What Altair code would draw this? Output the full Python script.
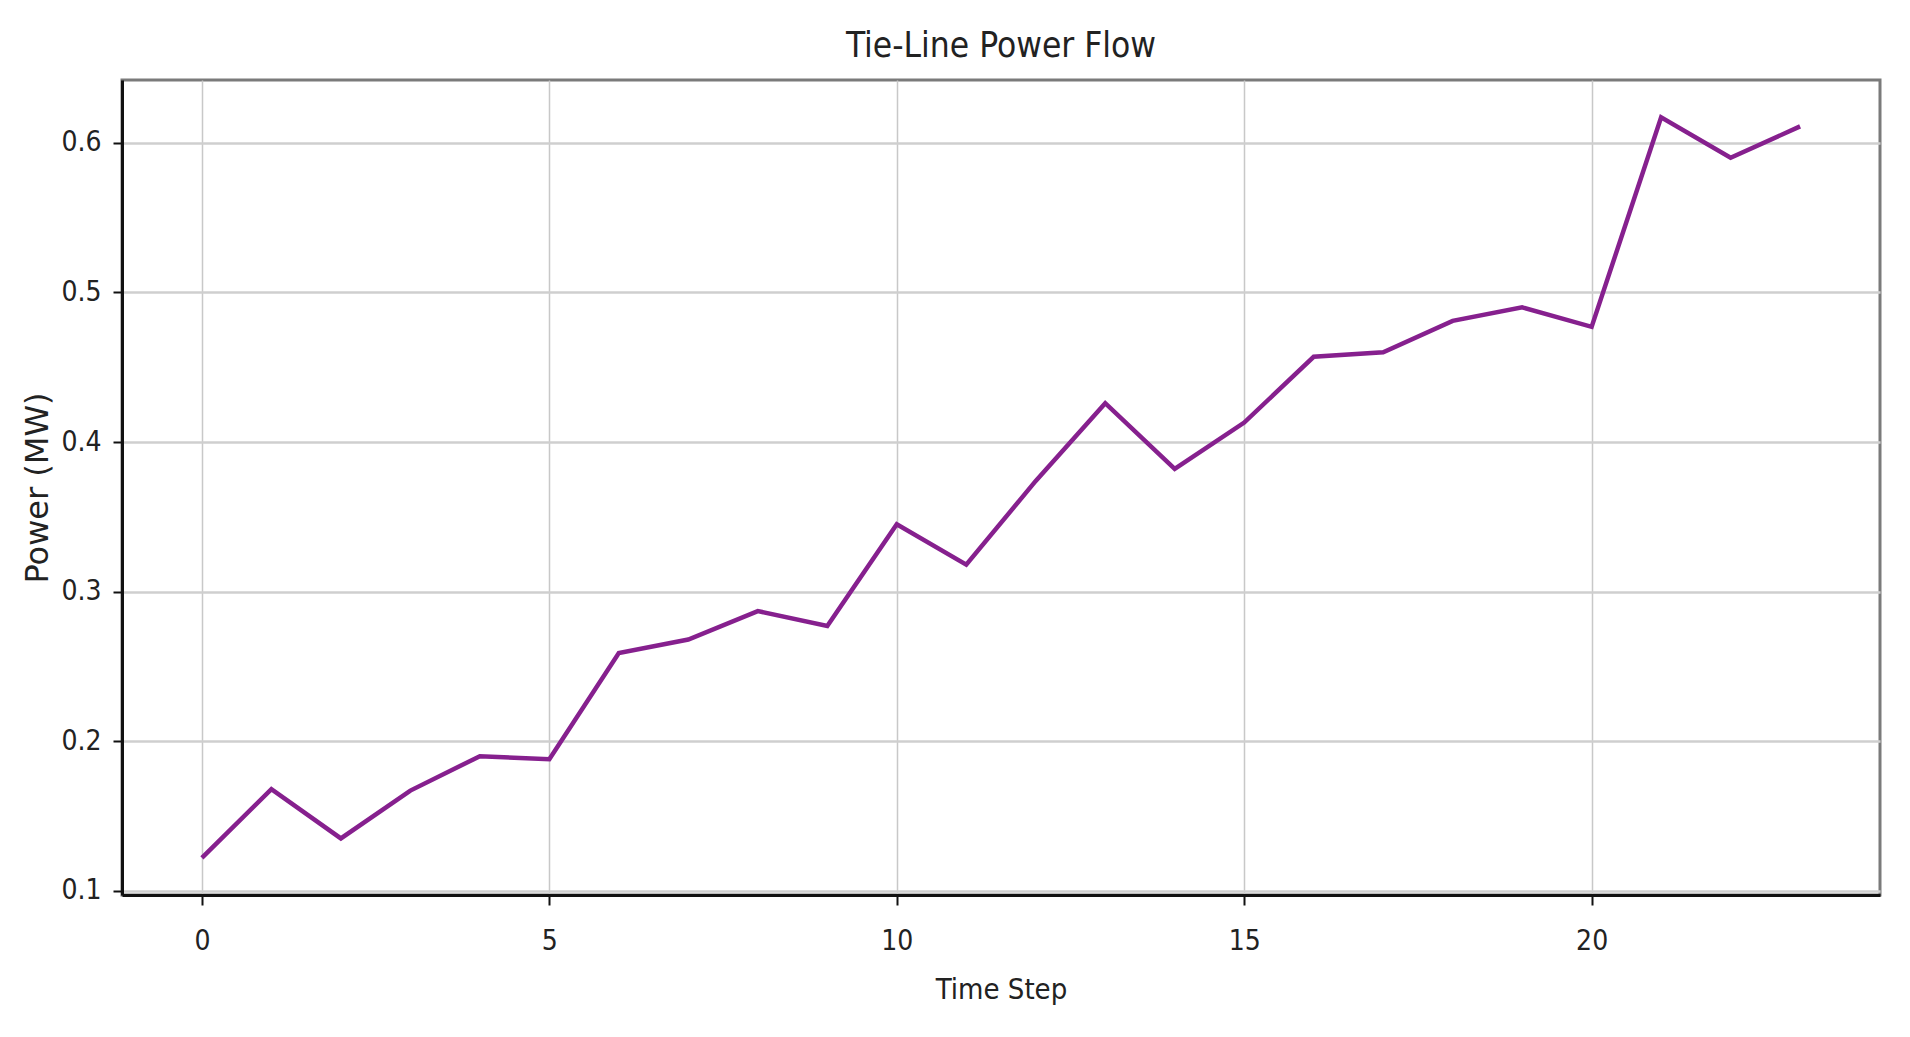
import altair as alt
import pandas as pd

time_step = list(range(24))
power_mw = [0.122, 0.168, 0.135, 0.167, 0.190, 0.188, 0.259, 0.268, 0.287, 0.277,
            0.345, 0.318, 0.374, 0.426, 0.382, 0.413, 0.457, 0.460, 0.481, 0.490,
            0.477, 0.617, 0.590, 0.611]
x_ticks = [0, 5, 10, 15, 20]
y_ticks = [0.1, 0.2, 0.3, 0.4, 0.5, 0.6]

df = pd.DataFrame({"t": time_step, "p": power_mw})

COND = "DejaVu Sans Condensed, Liberation Sans Narrow, DejaVu Sans, sans-serif"

line = alt.Chart(df).mark_line(color="#86208e", strokeWidth=4.5).encode(
    x=alt.X("t:Q", title="Time Step",
            scale=alt.Scale(domain=[-1.15, 24.15], nice=False, zero=False),
            axis=alt.Axis(values=x_ticks, format="d", gridColor="#c8c8c8", gridWidth=1.5,
                          domainColor="#111111", domainWidth=3, tickColor="#111111",
                          tickSize=10, tickWidth=2, labelPadding=22, titlePadding=20,
                          labelFontSize=28, titleFontSize=29, labelFont=COND, titleFont=COND,
                          labelColor="#222222", titleColor="#222222", titleFontWeight="normal")),
    y=alt.Y("p:Q", title="Power (MW)",
            scale=alt.Scale(domain=[0.0972, 0.642], nice=False, zero=False),
            axis=alt.Axis(values=y_ticks, format=".1f", gridColor="#cfcfcf", gridWidth=2.5,
                          domainColor="#111111", domainWidth=3, tickColor="#111111",
                          tickSize=9, tickWidth=2, labelPadding=12, titlePadding=6,
                          labelFontSize=28, titleFontSize=32, labelFont=COND,
                          titleFont="DejaVu Sans, sans-serif",
                          labelColor="#222222", titleColor="#222222", titleFontWeight="normal")),
)

chart = line.properties(
    width=1758,
    height=815,
    title=alt.TitleParams("Tie-Line Power Flow", fontSize=35, font=COND, fontWeight="normal",
                          color="#222222", anchor="middle", offset=16),
    autosize=alt.AutoSizeParams(type="none"),
    padding={"left": 114, "top": 72, "right": 20, "bottom": 130},
).configure_view(stroke="#7a7a7a", strokeWidth=3)

chart.save("out.html", embed_options={"renderer": "svg", "actions": False})
